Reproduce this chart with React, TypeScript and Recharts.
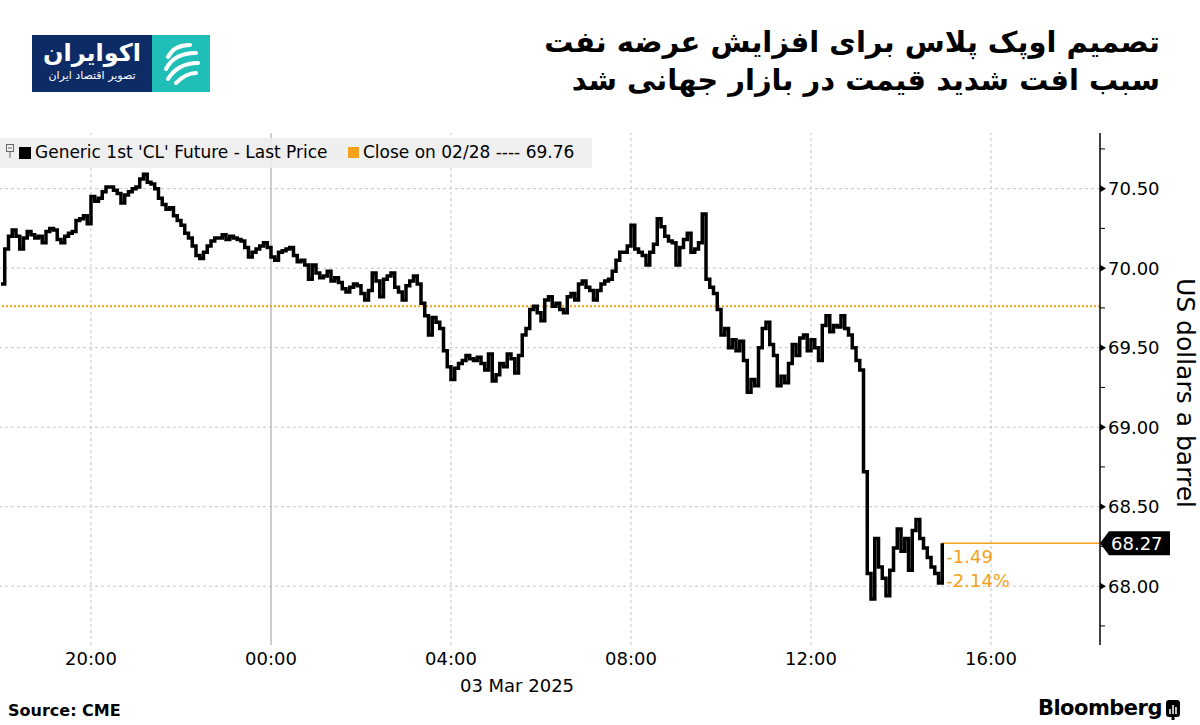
import React from "react";
import { LineChart, Line, XAxis, YAxis, ReferenceLine, ReferenceDot } from "recharts";

// 5-minute prices, Generic 1st 'CL' Future, from 18:00 (02 Mar) onward
const eveningPrices = [
  69.9, 70.12, 70.2, 70.24, 70.2, 70.12, 70.19, 70.23, 70.21, 70.19, 70.2, 70.16,
  70.23, 70.25, 70.24, 70.18, 70.16, 70.2, 70.22, 70.23, 70.3, 70.31, 70.33, 70.28,
  70.45, 70.42, 70.44, 70.48, 70.51, 70.51, 70.49, 70.47, 70.41, 70.46, 70.48, 70.5,
  70.51, 70.56, 70.59, 70.54, 70.53, 70.5, 70.44, 70.4, 70.37, 70.38, 70.33, 70.3,
  70.27, 70.22, 70.19, 70.14, 70.08, 70.06, 70.1, 70.14, 70.17, 70.19, 70.19, 70.21,
  70.18, 70.2, 70.19, 70.18, 70.17, 70.13, 70.07, 70.1, 70.12, 70.14, 70.16, 70.13,
];
const overnightPrices = [
  70.07, 70.05, 70.1, 70.11, 70.12, 70.13, 70.08, 70.04, 70.05, 70.02, 69.93, 70.02,
  69.97, 69.94, 69.95, 69.98, 69.92, 69.94, 69.91, 69.87, 69.85, 69.88, 69.9, 69.89,
  69.84, 69.8, 69.86, 69.97, 69.92, 69.82, 69.93, 69.95, 69.97, 69.88, 69.85, 69.8,
  69.89, 69.92, 69.95, 69.9, 69.78, 69.7, 69.58, 69.69, 69.66, 69.62, 69.48, 69.38,
  69.3, 69.37, 69.4, 69.42, 69.45, 69.43, 69.42, 69.44, 69.4, 69.36, 69.46, 69.29,
  69.33, 69.4, 69.38, 69.46, 69.43, 69.34, 69.45, 69.58, 69.62, 69.74, 69.76, 69.72,
];
const morningPrices = [
  69.67, 69.8, 69.82, 69.76, 69.78, 69.74, 69.72, 69.82, 69.84, 69.8, 69.9, 69.92,
  69.88, 69.86, 69.8, 69.86, 69.9, 69.92, 69.93, 69.98, 70.05, 70.1, 70.1, 70.14,
  70.27, 70.12, 70.1, 70.08, 70.02, 70.1, 70.15, 70.31, 70.26, 70.2, 70.17, 70.16,
  70.02, 70.13, 70.18, 70.22, 70.1, 70.12, 70.16, 70.34, 69.93, 69.88, 69.84, 69.74,
  69.58, 69.62, 69.5, 69.55, 69.48, 69.54, 69.42, 69.22, 69.3, 69.26, 69.5, 69.62,
  69.66, 69.52, 69.45, 69.26, 69.32, 69.28, 69.4, 69.52, 69.45, 69.56, 69.58, 69.48,
];
const afternoonPrices = [
  69.55, 69.5, 69.42, 69.64, 69.7, 69.6, 69.64, 69.63, 69.7, 69.62, 69.58, 69.5,
  69.42, 69.36, 68.72, 68.08, 67.92, 68.3, 68.12, 68.05, 67.94, 68.1, 68.24, 68.36,
  68.22, 68.3, 68.1, 68.35, 68.42, 68.3, 68.24, 68.18, 68.12, 68.08, 68.02, 68.27,
];

const PREV_CLOSE = 69.76;
const LAST_PRICE = 68.27;
const NET_CHANGE = "-1.49";
const PCT_CHANGE = "-2.14%";

// minutes after 18:00
const xTicks = [120, 360, 600, 840, 1080, 1320];
const xTickLabels = ["20:00", "00:00", "04:00", "08:00", "12:00", "16:00"];
const yMajor = [68, 68.5, 69, 69.5, 70, 70.5];
const yMinor = [67.75, 68.25, 68.75, 69.25, 69.75, 70.25, 70.75];

const prices = [...eveningPrices, ...overnightPrices, ...morningPrices, ...afternoonPrices];
const data = prices.map((p, i) => ({ t: i * 5, p }));
const lastT = (prices.length - 1) * 5;
const X_DOMAIN: [number, number] = [-1.3, 1465.3];

const ORANGE = "#f4a11c";
const GRID = "#c4c4c4";
const FONT = "'DejaVu Sans', sans-serif";

function PriceTick(props: any) {
  const { x, y, payload } = props;
  const v = payload.value as number;
  if (v === LAST_PRICE) {
    return (
      <g>
        <polygon
          points={`${x},${y} ${x + 9},${y - 12} ${x + 70},${y - 12} ${x + 70},${y + 12} ${x + 9},${y + 12}`}
          fill="#000"
        />
        <text x={x + 11} y={y} dy="0.36em" fill="#fff" fontSize={18} fontFamily={FONT}>
          {v.toFixed(2)}
        </text>
      </g>
    );
  }
  if (yMinor.includes(v)) {
    return <line x1={x} x2={x + 5} y1={y} y2={y} stroke="#000" strokeWidth={1} />;
  }
  return (
    <g>
      <polygon points={`${x},${y - 3.5} ${x + 6},${y} ${x},${y + 3.5}`} fill="#000" />
      <text x={x + 8} y={y} dy="0.36em" fill="#000" fontSize={18} fontFamily={FONT}>
        {v.toFixed(2)}
      </text>
    </g>
  );
}

function ChangeLabel(props: any) {
  const { viewBox } = props;
  const x = viewBox.x + 4;
  const y = viewBox.y;
  return (
    <g fontFamily={FONT} fontSize={18} fill={ORANGE}>
      <text x={x} y={y + 13} dy="0.36em">{NET_CHANGE}</text>
      <text x={x} y={y + 37} dy="0.36em">{PCT_CHANGE}</text>
    </g>
  );
}

function Logo() {
  return (
    <div style={{ position: "absolute", left: 32, top: 35, width: 178, height: 57, display: "flex" }}>
      <div
        style={{
          width: 120,
          height: 57,
          background: "#0d2c66",
          color: "#fff",
          direction: "rtl",
          textAlign: "center",
          fontFamily: FONT,
        }}
      >
        <div style={{ fontSize: 24, fontWeight: 700, lineHeight: "30px", marginTop: 3 }}>اکوایران</div>
        <div style={{ fontSize: 11, lineHeight: "16px" }}>تصویر اقتصاد ایران</div>
      </div>
      <svg width={58} height={57} style={{ background: "#1fbfb7" }}>
        <g fill="none" stroke="#fff" strokeWidth={4} strokeLinecap="round">
          <path d="M16 22 Q22 10 38 10" />
          <path d="M14 34 Q22 18 44 18" />
          <path d="M16 44 Q26 28 46 28" />
          <path d="M24 48 Q34 38 44 38" />
        </g>
      </svg>
    </div>
  );
}

export default function App() {
  return (
    <div
      style={{
        position: "relative",
        width: 1200,
        height: 725,
        background: "#fff",
        fontFamily: FONT,
        overflow: "hidden",
      }}
    >
      <style>{`body{margin:0}`}</style>
      <Logo />
      <div
        style={{
          position: "absolute",
          right: 40,
          top: 23,
          direction: "rtl",
          textAlign: "right",
          fontSize: 29,
          fontWeight: 700,
          lineHeight: "38px",
          color: "#000",
        }}
      >
        <div>تصمیم اوپک پلاس برای افزایش عرضه نفت</div>
        <div>سبب افت شدید قیمت در بازار جهانی شد</div>
      </div>

      <LineChart
        width={1200}
        height={725}
        data={data}
        margin={{ top: 133, right: 0, left: 0, bottom: 0 }}
        style={{ position: "absolute", left: 0, top: 0 }}
      >
        <XAxis
          type="number"
          dataKey="t"
          domain={X_DOMAIN}
          ticks={xTicks}
          interval={0}
          height={80}
          axisLine={false}
          tickLine={false}
          tickSize={0}
          tickMargin={7}
          tickFormatter={(v: number) => xTickLabels[xTicks.indexOf(v)]}
          tick={{ fontSize: 18, fill: "#000", fontFamily: FONT }}
          allowDataOverflow
        />
        <YAxis
          orientation="right"
          width={100}
          domain={[67.63, 70.85]}
          ticks={[...yMinor, ...yMajor, LAST_PRICE].sort((a, b) => a - b)}
          interval={0}
          tickSize={0}
          tickMargin={0}
          tickLine={false}
          axisLine={{ stroke: "#000", strokeWidth: 1.5 }}
          tick={<PriceTick />}
          allowDataOverflow
        />
        {yMajor.map((v) => (
          <ReferenceLine key={"h" + v} y={v} stroke={GRID} strokeDasharray="3 3" />
        ))}
        {xTicks
          .filter((t) => t !== 360)
          .map((t) => (
            <ReferenceLine key={"v" + t} x={t} stroke={GRID} strokeDasharray="3 3" />
          ))}
        <ReferenceLine x={360} stroke="#bdbdbd" strokeWidth={1.5} />
        <ReferenceLine y={PREV_CLOSE} stroke={ORANGE} strokeWidth={2} strokeDasharray="2 2" />
        <ReferenceLine
          segment={[
            { x: lastT, y: LAST_PRICE },
            { x: X_DOMAIN[1], y: LAST_PRICE },
          ]}
          stroke={ORANGE}
          strokeWidth={1.5}
        />
        <Line
          type="stepAfter"
          dataKey="p"
          stroke="#000"
          strokeWidth={3.5}
          dot={false}
          isAnimationActive={false}
        />
        <ReferenceDot x={lastT} y={LAST_PRICE} r={0} label={<ChangeLabel />} />
      </LineChart>

      {/* legend */}
      <div
        style={{
          position: "absolute",
          left: 0,
          top: 138,
          width: 592,
          height: 30,
          background: "rgba(238,238,238,0.92)",
          fontSize: 17,
          color: "#000",
        }}
      >
        <svg width={12} height={18} style={{ position: "absolute", left: 6, top: 6 }}>
          <rect x={0.5} y={0.5} width={7} height={7} fill="none" stroke="#666" />
          <line x1={2} x2={6} y1={4} y2={4} stroke="#666" />
          <line x1={4} x2={4} y1={8} y2={14} stroke="#666" />
        </svg>
        <div style={{ position: "absolute", left: 19, top: 9, width: 12, height: 12, background: "#000" }} />
        <div style={{ position: "absolute", left: 35, top: 4, whiteSpace: "nowrap" }}>
          Generic 1st 'CL' Future - Last Price
        </div>
        <div style={{ position: "absolute", left: 348, top: 9, width: 11, height: 11, background: ORANGE }} />
        <div style={{ position: "absolute", left: 363, top: 4, whiteSpace: "nowrap" }}>
          Close on 02/28 ---- 69.76
        </div>
      </div>

      <div
        style={{
          position: "absolute",
          left: 1185,
          top: 393,
          transform: "translate(-50%, -50%) rotate(90deg)",
          fontSize: 25,
          whiteSpace: "nowrap",
          color: "#000",
        }}
      >
        US dollars a barrel
      </div>

      <div
        style={{
          position: "absolute",
          left: 517,
          top: 675,
          transform: "translateX(-50%)",
          fontSize: 18,
          whiteSpace: "nowrap",
        }}
      >
        03 Mar 2025
      </div>

      <div style={{ position: "absolute", left: 8, top: 701, fontSize: 16, fontWeight: 700 }}>
        Source: CME
      </div>
      <div
        style={{
          position: "absolute",
          right: 38,
          top: 696,
          fontSize: 21,
          fontWeight: 700,
          letterSpacing: -0.5,
        }}
      >
        Bloomberg
      </div>
      <svg width={14} height={20} style={{ position: "absolute", left: 1166, top: 700 }}>
        <rect x={0} y={0} width={14} height={17} rx={3} fill="#000" />
        <path d="M7 17 L7 20" stroke="#000" strokeWidth={3} />
        <line x1={4} x2={4} y1={9} y2={14} stroke="#fff" strokeWidth={1.5} />
        <line x1={7} x2={7} y1={5} y2={14} stroke="#fff" strokeWidth={1.5} />
        <line x1={10} x2={10} y1={7} y2={14} stroke="#fff" strokeWidth={1.5} />
      </svg>
    </div>
  );
}
